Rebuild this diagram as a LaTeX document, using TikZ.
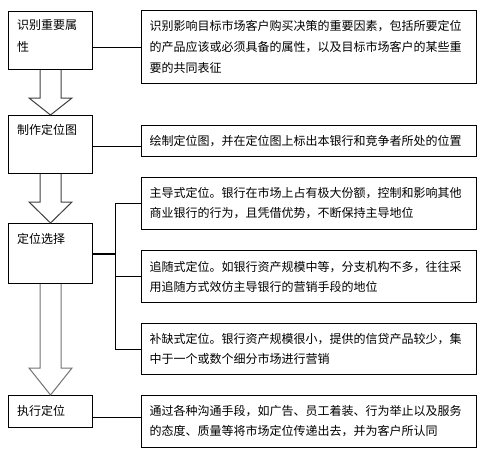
\documentclass[tikz,border=0pt]{standalone}
\usepackage{fontspec}
\setmainfont{Noto Sans CJK SC}
\usetikzlibrary{calc}
\tikzset{
  box/.style={draw=black, line width=1pt, fill=white, inner sep=0pt, anchor=north west},
  lbox/.style={box, minimum width=84pt},
  rbox/.style={box, minimum width=335pt, align=left, text width=319pt, inner xsep=8pt,
    font=\fontsize{12}{20}\selectfont},
  ltext/.style={anchor=north west, align=left, inner sep=0pt, font=\fontsize{12}{22}\selectfont},
  conn/.style={draw=black, line width=1pt},
  blk/.style={line width=1pt, line join=miter},
}
\newcommand{\barrow}[4]{%
  \draw[blk,#4] ($(#1.south)+(-10.5,0)$) -- ($(#2.north)+(-10.5,-#3)$) -- ($(#2.north)+(-21.5,-#3)$)
    -- (#2.north) -- ($(#2.north)+(21.5,-#3)$) -- ($(#2.north)+(10.5,-#3)$) -- ($(#1.south)+(10.5,0)$);}
\begin{document}
\begin{tikzpicture}[x=1pt,y=-1pt]
\useasboundingbox[fill=white] (0,0) rectangle (481,455);
% left boxes
\node[lbox, minimum height=58pt] (l1) at (8,11) {};
\node[lbox, minimum height=58pt] (l2) at (8,115) {};
\node[lbox, minimum height=60pt] (l3) at (8,223) {};
\node[lbox, minimum height=32pt] (l4) at (8,395) {};
\node[ltext] (t1) at (17,19) {识别重要属\\性};
\node[ltext] (t2) at (17,124) {制作定位图};
\node[ltext] (t3) at (17,233) {定位选择};
\node[ltext] (t4) at (17,405) {执行定位};
% arrows
\coordinate (l2tip) at ($(l2.north)+(0,-1)$);
\barrow{l1}{l2}{17}{draw=black!75}
\barrow{l2}{l3}{21}{draw=black!75}
\barrow{l3}{l4}{27}{draw=black!55}
% right boxes
\node[rbox, minimum height=73pt, font=\fontsize{12}{21}\selectfont] (r1) at (141,10)
  {识别影响目标市场客户购买决策的重要因素，包括所要定位\\的产品应该或必须具备的属性，以及目标市场客户的某些重\\要的共同表征};
\node[rbox, minimum height=31pt] (r2) at (141,125)
  {绘制定位图，并在定位图上标出本银行和竞争者所处的位置};
\node[rbox, minimum height=52pt] (r3a) at (141,177)
  {主导式定位。银行在市场上占有极大份额，控制和影响其他\\商业银行的行为，且凭借优势，不断保持主导地位};
\node[rbox, minimum height=52pt] (r3b) at (141,250)
  {追随式定位。如银行资产规模中等，分支机构不多，往往采\\用追随方式效仿主导银行的营销手段的地位};
\node[rbox, minimum height=51pt] (r3c) at (141,323)
  {补缺式定位。银行资产规模很小，提供的信贷产品较少，集\\中于一个或数个细分市场进行营销};
\node[rbox, minimum height=52pt] (r4) at (141,395)
  {通过各种沟通手段，如广告、员工着装、行为举止以及服务\\的态度、质量等将市场定位传递出去，并为客户所认同};
% connectors
\draw[conn] (r1.west) -- (r1.west -| l1.east);
\draw[conn] ([yshift=-5pt]r2.west) -- ([yshift=-5pt]r2.west -| l2.east);
\coordinate (bus) at (115,0);
\draw[conn, line width=2pt] (l3.east) -- (l3.east -| bus);
\draw[conn] (r3a.west) -| (bus |- r3c.west) -- (r3c.west);
\draw[conn] (r3b.west) -- (r3b.west -| bus);
\draw[conn] ([yshift=4pt]r4.west) -- ([yshift=4pt]r4.west -| l4.east);
\end{tikzpicture}
\end{document}
